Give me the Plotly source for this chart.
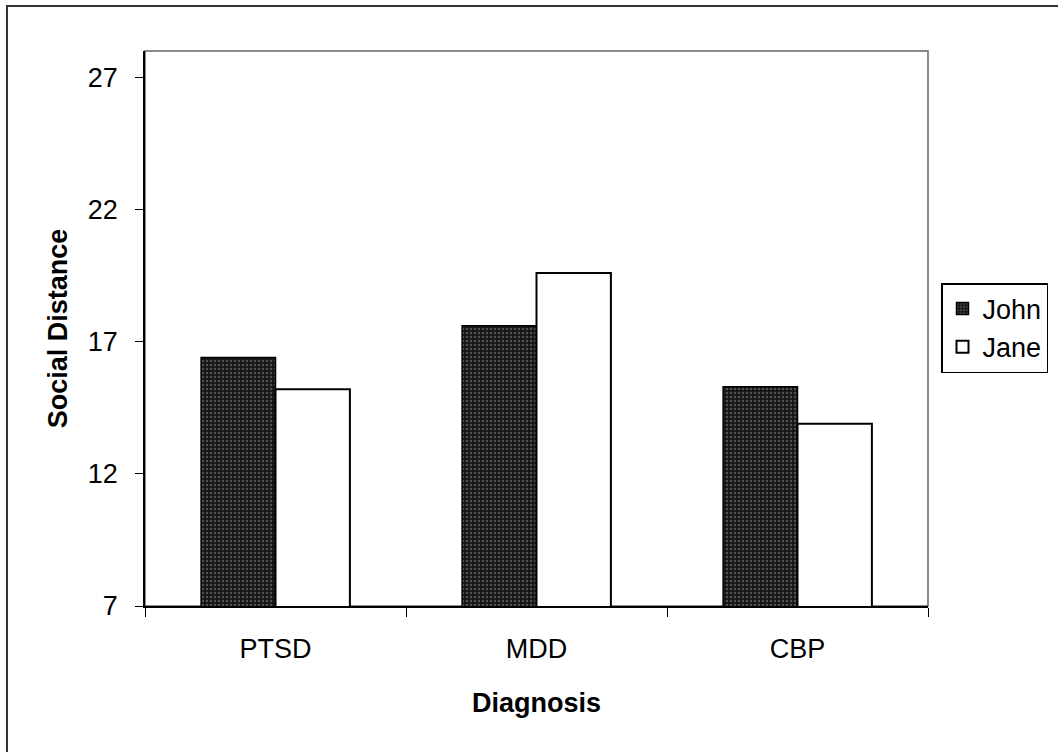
import plotly.graph_objects as go

categories = ["PTSD", "MDD", "CBP"]
john = [16.4, 17.6, 15.3]
jane = [15.2, 19.6, 13.9]
y_ticks = [7, 12, 17, 22, 27]

FONT = "Liberation Sans"

fig = go.Figure()
fig.add_trace(go.Bar(
    name="John", x=categories, y=john,
    marker=dict(color="#1c1c1c", line=dict(color="black", width=1.5),
                pattern=dict(shape=".", fgcolor="#8a8a8a", bgcolor="#151515",
                             size=4, solidity=0.3)),
))
fig.add_trace(go.Bar(
    name="Jane", x=categories, y=jane,
    marker=dict(color="white", line=dict(color="black", width=2)),
))

W, H = 1058, 752
L, R, T, B = 145, 130, 51, 146
pw, ph = W - L - R, H - T - B

def px(x):
    return (x - L) / pw

def py(y):
    return (H - B - y) / ph

fig.update_layout(
    width=W, height=H,
    margin=dict(l=L, r=R, t=T, b=B, autoexpand=False),
    paper_bgcolor="white", plot_bgcolor="white",
    barmode="group", bargap=0.43, bargroupgap=0,
    font=dict(family=FONT, size=27, color="black"),
    legend=dict(x=px(941), y=py(283), xanchor="left", yanchor="top",
                bordercolor="black", borderwidth=1.5, bgcolor="white",
                font=dict(family=FONT, size=27, color="black"),
                traceorder="normal", itemwidth=30),
    xaxis=dict(showline=True, linecolor="black", linewidth=1.5,
               ticks="outside", tickson="boundaries", ticklen=9, tickcolor="black",
               ticklabelstandoff=18, showgrid=False,
               title=dict(text="<b>Diagnosis</b>", standoff=30,
                          font=dict(family=FONT, size=27))),
    yaxis=dict(range=[7, 28], tickvals=y_ticks, showline=True, linecolor="black",
               linewidth=1.5, ticks="outside", ticklen=8, tickcolor="black",
               ticklabelstandoff=12, showgrid=False, zeroline=False,
               title=dict(text="<b>Social Distance</b>", standoff=12,
                          font=dict(family=FONT, size=27))),
    shapes=[
        dict(type="rect", xref="paper", yref="paper", x0=0, x1=1, y0=0, y1=1,
             line=dict(color="#666666", width=1.5), layer="below"),
        dict(type="rect", xref="paper", yref="paper",
             x0=px(7), x1=px(1070), y0=py(6), y1=py(770),
             line=dict(color="#333333", width=2)),
    ],
)

fig.write_html("out.html", config={"displayModeBar": False},
               post_script="document.body.style.margin='0';")
